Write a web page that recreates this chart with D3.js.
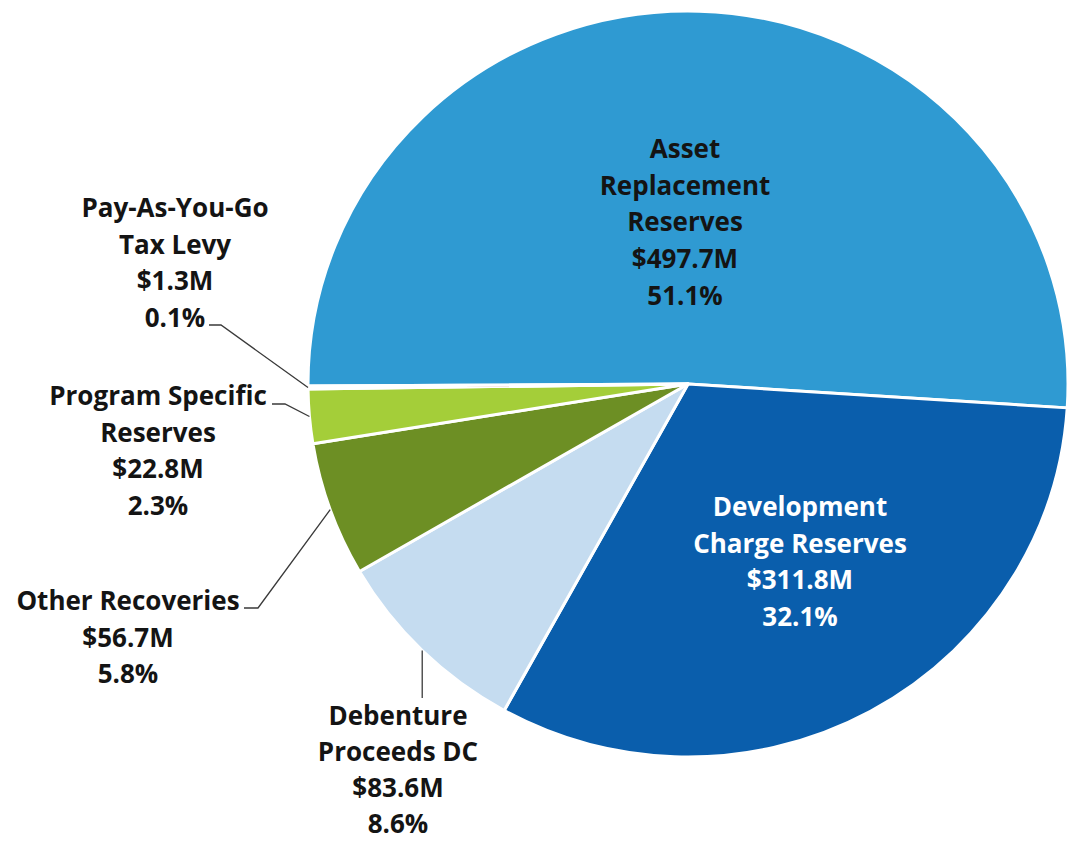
<!DOCTYPE html>
<html><head><meta charset="utf-8">
<script src="https://cdn.jsdelivr.net/npm/d3@7"></script>
<style>body{margin:0;background:#fff;overflow:hidden}</style>
</head><body>
<svg id="c" width="1069" height="841"></svg>
<script>
// ---- data ----
const categories = ["Asset Replacement Reserves","Development Charge Reserves","Debenture Proceeds DC","Other Recoveries","Program Specific Reserves","Pay-As-You-Go Tax Levy"];
const labelLines = [["Asset","Replacement","Reserves"],["Development","Charge Reserves"],["Debenture","Proceeds DC"],["Other Recoveries"],["Program Specific","Reserves"],["Pay-As-You-Go","Tax Levy"]];
const valuesM = [497.7, 311.8, 83.6, 56.7, 22.8, 1.3];
const percents = [51.1, 32.1, 8.6, 5.8, 2.3, 0.1];
const colors = ["#2F9AD2","#0A5EAC","#C5DCF0","#6D8F24","#A4CE39","#C0504D"];

// ---- layout ----
const W = 1069, H = 841;
const cx = 688, cy = 384, rx = 380, ry = 373;
const startDeg = -90.3;
const labelPos = [
  {x:685, y:148, lh:36.7, fill:"#141414"},
  {x:800, y:506, lh:36.7, fill:"#ffffff"},
  {x:398, y:715, lh:36.0, fill:"#141414"},
  {x:128, y:600, lh:36.7, fill:"#141414"},
  {x:158, y:395, lh:36.7, fill:"#141414"},
  {x:175, y:207, lh:36.7, fill:"#141414"}
];
// leader: points from label side toward pie edge (edge point computed from arc)
const leaders = [null, null,
  [[421,698]],
  [[244,608],[258,608]],
  [[272,404],[285,404]],
  [[209,325],[221,325]]
];

const svg = d3.select("#c");
const pie = d3.pie().sort(null).value(d => d)
  .startAngle(startDeg*Math.PI/180).endAngle(startDeg*Math.PI/180 + 2*Math.PI);
const arcs = pie(valuesM);
const arc = d3.arc().innerRadius(0).outerRadius(rx);

const g = svg.append("g").attr("transform", `translate(${cx},${cy}) scale(1,${ry/rx})`);
g.selectAll("path").data(arcs).join("path")
  .attr("d", arc)
  .attr("fill", (d,i) => colors[i])
  .attr("stroke", "#ffffff")
  .attr("stroke-width", 3)
  .attr("stroke-linejoin", "round");

// leader lines
const lineGen = d3.line();
arcs.forEach((a, i) => {
  if (!leaders[i]) return;
  const mid = (a.startAngle + a.endAngle)/2;
  const ex = cx + rx*Math.sin(mid), ey = cy - ry*Math.cos(mid);
  let pts = leaders[i].slice();
  if (i === 2) pts = [[ex, pts[0][1]]];
  pts.push([ex, ey]);
  svg.append("path").attr("d", lineGen(pts))
    .attr("fill","none").attr("stroke","#3a3a3a").attr("stroke-width",1.3);
});

// labels
const font = "'Open Sans', Lato, sans-serif";
arcs.forEach((a, i) => {
  const lines = labelLines[i].concat(["$" + valuesM[i].toFixed(1) + "M", percents[i].toFixed(1) + "%"]);
  const p = labelPos[i];
  const t = svg.append("text")
    .attr("text-anchor","middle")
    .attr("font-family", font)
    .attr("font-weight", 700)
    .attr("font-size", 26)
    .attr("fill", p.fill);
  lines.forEach((ln, k) => {
    t.append("tspan").attr("x", p.x).attr("y", p.y + k*p.lh)
      .attr("dominant-baseline","central").text(ln);
  });
});
</script>
</body></html>
